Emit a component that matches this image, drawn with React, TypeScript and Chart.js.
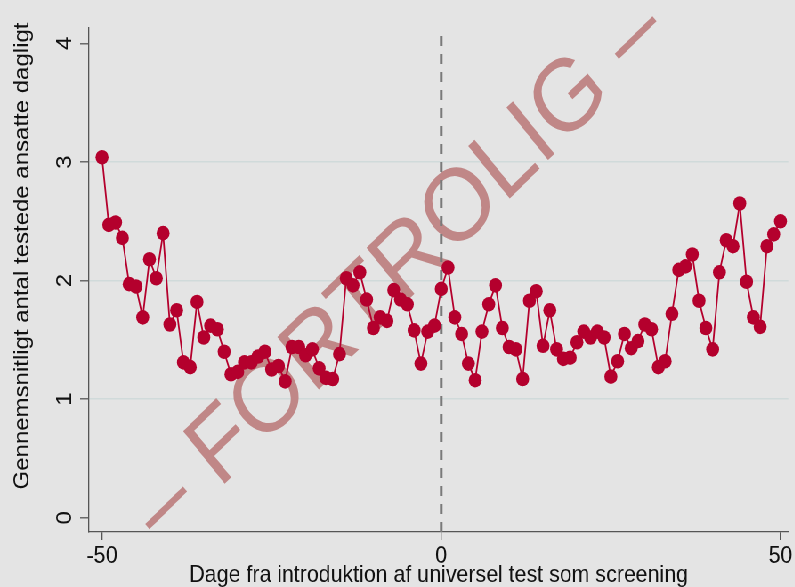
import React, { useEffect, useRef } from "react";
import { Chart, registerables } from "chart.js";

Chart.register(...registerables);

// ---- data ----
const days = [
  -50, -49, -48, -47, -46, -45, -44, -43, -42, -41,
  -40, -39, -38, -37, -36, -35, -34, -33, -32, -31,
  -30, -29, -28, -27, -26, -25, -24, -23, -22, -21,
  -20, -19, -18, -17, -16, -15, -14, -13, -12, -11,
  -10, -9, -8, -7, -6, -5, -4, -3, -2, -1,
  0, 1, 2, 3, 4, 5, 6, 7, 8, 9,
  10, 11, 12, 13, 14, 15, 16, 17, 18, 19,
  20, 21, 22, 23, 24, 25, 26, 27, 28, 29,
  30, 31, 32, 33, 34, 35, 36, 37, 38, 39,
  40, 41, 42, 43, 44, 45, 46, 47, 48, 49,
  50,
];

const avgTested = [
  3.04, 2.47, 2.49, 2.36, 1.97, 1.95, 1.69, 2.18, 2.02, 2.40,
  1.63, 1.75, 1.31, 1.27, 1.82, 1.52, 1.62, 1.59, 1.40, 1.21,
  1.23, 1.31, 1.31, 1.36, 1.40, 1.25, 1.28, 1.15, 1.44, 1.44,
  1.37, 1.42, 1.26, 1.18, 1.17, 1.38, 2.02, 1.96, 2.07, 1.84,
  1.60, 1.69, 1.66, 1.92, 1.84, 1.80, 1.58, 1.30, 1.57, 1.62,
  1.93, 2.11, 1.69, 1.55, 1.30, 1.16, 1.57, 1.80, 1.96, 1.60,
  1.44, 1.42, 1.17, 1.83, 1.91, 1.45, 1.75, 1.42, 1.34, 1.35,
  1.48, 1.57, 1.52, 1.57, 1.52, 1.19, 1.32, 1.55, 1.43, 1.49,
  1.63, 1.59, 1.27, 1.32, 1.72, 2.09, 2.12, 2.22, 1.83, 1.60,
  1.42, 2.07, 2.34, 2.29, 2.65, 1.99, 1.69, 1.61, 2.29, 2.39,
  2.50,
];

const xTicks = [-50, 0, 50];
const yTicks = [0, 1, 2, 3, 4];
const cutoffDay = [0, 0];
const cutoffSpan = [-0.12, 4.13];

const xTitle = "Dage fra introduktion af universel test som screening";
const yTitle = "Gennemsnitligt antal testede ansatte dagligt";
const watermark = "\u2013 FORTROLIG \u2013";

// ---- layout / style ----
const SX = 0.89; // horizontal squeeze of the original figure
const W = Math.round(795 / SX);
const H = 587;
const BG = "#e4e4e4";
const RED = "#b4002d";
const AXIS = "#555555";
const TEXT = "#111111";
const FONT = "'Liberation Sans', Arial, sans-serif";

export default function App() {
  const ref = useRef<HTMLCanvasElement | null>(null);

  useEffect(() => {
    document.body.style.margin = "0";
    document.body.style.background = BG;
    const canvas = ref.current;
    if (!canvas) return;

    const bgPlugin = {
      id: "bg",
      beforeDraw(chart: any) {
        const c = chart.ctx;
        c.save();
        c.fillStyle = BG;
        c.fillRect(0, 0, chart.width, chart.height);
        c.restore();
      },
    };

    const watermarkPlugin = {
      id: "wm",
      beforeDatasetsDraw(chart: any) {
        const c = chart.ctx;
        c.save();
        c.translate(449, 271);
        c.rotate((-41.7 * Math.PI) / 180);
        c.font = `102px ${FONT}`;
        c.fillStyle = "#c08787";
        c.textAlign = "center";
        c.textBaseline = "middle";
        c.fillText(watermark, 0, 0);
        c.restore();
      },
    };

    const textPlugin = {
      id: "ytext",
      afterDraw(chart: any) {
        const c = chart.ctx;
        const ys = chart.scales.y;
        c.save();
        c.fillStyle = TEXT;
        c.font = `24px ${FONT}`;
        c.textAlign = "center";
        c.textBaseline = "middle";
        for (const v of yTicks) {
          const py = ys.getPixelForValue(v);
          c.save();
          c.translate(73, py);
          c.rotate(-Math.PI / 2);
          c.fillText(String(v), 0, 0);
          c.restore();
        }
        c.save();
        c.translate(25, 256);
        c.rotate(-Math.PI / 2);
        c.fillText(yTitle, 0, 0);
        c.restore();
        c.restore();
      },
    };

    const chart = new Chart(canvas, {
      type: "line",
      data: {
        datasets: [
          {
            data: days.map((d, i) => ({ x: d, y: avgTested[i] })),
            borderColor: RED,
            backgroundColor: RED,
            borderWidth: 1.8,
            pointRadius: 7.3,
            pointBackgroundColor: RED,
            pointBorderWidth: 0,
            tension: 0,
            order: 1,
          },
          {
            data: cutoffDay.map((d, i) => ({ x: d, y: cutoffSpan[i] })),
            borderColor: "#7a7a7a",
            borderWidth: 3,
            borderDash: [10, 8],
            pointRadius: 0,
            order: 2,
          },
        ],
      },
      options: {
        responsive: false,
        animation: false,
        devicePixelRatio: 1,
        layout: { padding: { top: 28, left: 0, right: 0, bottom: 0 } },
        plugins: {
          legend: { display: false },
          tooltip: { enabled: false },
        },
        scales: {
          x: {
            type: "linear",
            min: -51.92,
            max: 51.15,
            afterBuildTicks: (s: any) => {
              s.ticks = xTicks.map((v) => ({ value: v }));
            },
            afterFit: (s: any) => {
              s.height = 55;
            },
            ticks: {
              color: TEXT,
              font: { family: FONT, size: 24 },
              padding: 2,
              maxRotation: 0,
              callback: (v: any) => String(v),
            },
            grid: {
              drawOnChartArea: false,
              drawTicks: true,
              tickLength: 8,
              tickColor: AXIS,
              lineWidth: 1.3,
            },
            border: { display: true, color: AXIS, width: 1.3 },
            title: {
              display: true,
              text: xTitle,
              color: TEXT,
              font: { family: FONT, size: 24, lineHeight: 1 },
              padding: { top: 0, bottom: 0 },
            },
          },
          y: {
            type: "linear",
            min: -0.12,
            max: 4.13,
            afterBuildTicks: (s: any) => {
              s.ticks = yTicks.map((v) => ({ value: v }));
            },
            afterFit: (s: any) => {
              s.width = 100;
            },
            ticks: { display: false },
            grid: {
              color: (ctx: any) =>
                ctx.tick && (ctx.tick.value === 0 || ctx.tick.value === 4)
                  ? "rgba(0,0,0,0)"
                  : "#d0dada",
              lineWidth: 1.6,
              drawTicks: true,
              tickLength: 10,
              tickColor: AXIS,
              tickWidth: 1.3,
            },
            border: { display: true, color: AXIS, width: 1.3 },
          },
        },
      },
      plugins: [bgPlugin, watermarkPlugin, textPlugin],
    } as any);

    return () => chart.destroy();
  }, []);

  return (
    <div
      style={{
        position: "fixed",
        left: 0,
        top: 0,
        width: W,
        height: H,
        transform: `scaleX(${SX})`,
        transformOrigin: "0 0",
        background: BG,
      }}
    >
      <canvas ref={ref} width={W} height={H} style={{ width: W, height: H, display: "block" }} />
    </div>
  );
}
